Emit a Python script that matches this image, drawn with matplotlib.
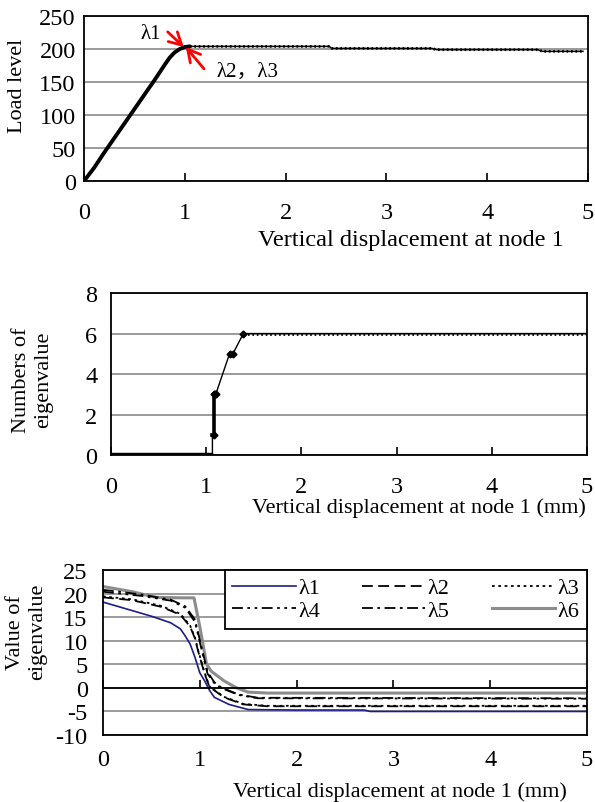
"""Load curve, eigenvalue count and eigenvalues vs. vertical displacement at node 1."""

import matplotlib

matplotlib.use("Agg")
import matplotlib.pyplot as plt

# panel A: load level
load_disp = [0, 0.1, 0.2, 0.3, 0.4, 0.5, 0.6, 0.7, 0.8, 0.85, 0.9, 0.95, 1.0, 1.05,
             2.43, 2.46, 3.45, 3.5, 4.5, 4.55, 4.95]
load_level = [0, 20, 43, 65, 87, 109, 131, 153, 176, 187, 195, 200, 203, 204,
              204, 201, 201, 199, 199, 196.5, 196.5]
knee_index = 13

# panel B: number of negative eigenvalues
count_disp = [0, 1.05, 1.065, 1.065, 1.085, 1.085, 1.10, 1.245, 1.28, 1.39, 5.0]
count_value = [0, 0, 0, 1, 1, 3, 3, 5, 5, 6, 6]
count_marker_disp = [1.085, 1.085, 1.095, 1.10, 1.245, 1.28, 1.39]
count_marker_value = [1, 3, 3, 3, 5, 5, 6]

# panel C: eigenvalues
eig_disp = {
    "λ1": [0, 0.2, 0.5, 0.7, 0.8, 0.85, 0.9, 0.95, 1.0, 1.05, 1.1, 1.15, 1.3, 1.5, 2.0, 2.7, 2.76, 5.0],
    "λ2": [0, 0.3, 0.6, 0.8, 0.9, 0.95, 0.98, 1.05, 1.1, 1.25, 1.45, 1.7, 5.0],
    "λ3": [0, 0.3, 0.6, 0.8, 0.9, 0.95, 0.98, 1.05, 1.1, 1.25, 1.45, 1.7, 5.0],
    "λ4": [0, 0.4, 0.7, 0.85, 0.95, 1.02, 1.08, 1.15, 1.22, 1.4, 1.6, 5.0],
    "λ5": [0, 0.4, 0.7, 0.85, 0.95, 1.02, 1.08, 1.15, 1.22, 1.4, 1.6, 5.0],
    "λ6": [0, 0.3, 0.55, 0.8, 0.94, 1.0, 1.07, 1.12, 1.25, 1.38, 1.5, 1.7, 5.0],
}
eig_value = {
    "λ1": [18.2, 17.0, 15.2, 13.8, 12.5, 11.0, 9.3, 6.5, 3.2, 1.5, -0.5, -2.0, -3.5, -4.6, -4.7, -4.7, -5.0, -5.0],
    "λ2": [19.2, 18.6, 17.2, 15.5, 13.0, 10.5, 8.0, 3.0, 0.2, -2.0, -3.5, -3.9, -3.9],
    "λ3": [19.4, 18.8, 17.4, 15.7, 13.2, 10.7, 8.2, 3.2, 0.3, -1.9, -3.4, -3.8, -3.8],
    "λ4": [20.4, 19.5, 18.5, 17.0, 14.0, 8.0, 3.0, 1.0, 0.0, -1.5, -2.2, -2.3],
    "λ5": [20.8, 19.8, 18.7, 17.3, 14.5, 8.5, 3.4, 1.2, 0.1, -1.4, -2.1, -2.2],
    "λ6": [21.5, 20.4, 19.2, 19.1, 19.1, 13.0, 5.0, 3.5, 1.5, 0.0, -0.9, -1.1, -1.1],
}
eig_style = {
    "λ1": dict(color="#1c1c8a", lw=1.2, ls="-"),
    "λ2": dict(color="black", lw=1.3, ls=(0, (6, 3))),
    "λ3": dict(color="black", lw=1.3, ls=(0, (1.5, 2))),
    "λ4": dict(color="black", lw=1.3, ls=(0, (6, 2.5, 1.5, 2.5, 1.5, 2.5))),
    "λ5": dict(color="black", lw=1.3, ls=(0, (6, 2.5, 1.5, 2.5))),
    "λ6": dict(color="#8c8c8c", lw=2.2, ls="-"),
}

xticks = [0, 1, 2, 3, 4, 5]

plt.rcParams.update(
    {
        "font.family": ["Liberation Serif", "Noto Sans CJK JP"],
        "font.size": 16,
        "xtick.labelsize": 17.5,
        "ytick.labelsize": 17.5,
        "axes.linewidth": 1.3,
        "axes.edgecolor": "black",
        "axes.unicode_minus": False,
    }
)

fig = plt.figure(figsize=(5.95, 8.03), dpi=100)
ax1 = fig.add_axes([0.1412, 0.7733, 0.847, 0.2055])
ax2 = fig.add_axes([0.1866, 0.4321, 0.800, 0.2017])
ax3 = fig.add_axes([0.1731, 0.0834, 0.8134, 0.2055])


def style_axis(ax, ylim, yticks, ypad):
    ax.set_xlim(0, 5)
    ax.set_ylim(*ylim)
    ax.set_xticks(xticks)
    ax.set_yticks(yticks)
    ax.tick_params(axis="x", direction="in", length=6, width=1.2, pad=15, colors="black")
    ax.tick_params(axis="y", length=0, pad=ypad)
    ax.grid(axis="y", color="#808080", lw=1.1)
    ax.set_axisbelow(True)


# panel A
style_axis(ax1, (0, 250), [0, 50, 100, 150, 200, 250], 6)
ax1.plot(load_disp[: knee_index + 1], load_level[: knee_index + 1], color="black", lw=2.8,
         solid_capstyle="round")
ax1.plot(load_disp[knee_index:], load_level[knee_index:], color="black", lw=1.1)
ax1.plot(load_disp[knee_index:], load_level[knee_index:], color="black", lw=2.0,
         ls=(0, (0.6, 1.0)))
red_arrow = dict(arrowstyle="->,head_length=0.55,head_width=0.3", color="red", lw=2,
                 shrinkA=0, shrinkB=0)
ax1.annotate("", xy=(0.99, 203), xytext=(0.83, 226), arrowprops=red_arrow)
ax1.annotate("", xy=(1.01, 203), xytext=(1.19, 170), arrowprops=red_arrow)
ax1.text(0.665, 224, "λ1", ha="center", va="center", fontsize=15)
ax1.text(1.31, 166, "λ2，λ3", ha="left", va="center", fontsize=15)
ax1.set_xlabel("Vertical displacement at node 1", fontsize=17.5)
ax1.xaxis.set_label_coords(0.649, -0.29)
ax1.set_ylabel("Load level")
ax1.yaxis.set_label_coords(-0.113, 0.58)

# panel B
style_axis(ax2, (0, 8), [0, 2, 4, 6, 8], 10)
ax2.plot(count_disp[:2], count_value[:2], color="black", lw=3.2)
ax2.plot(count_disp[1:], count_value[1:], color="black", lw=1.0)
ax2.plot(count_disp[3:6], count_value[3:6], color="black", lw=2.6)
ax2.plot(count_disp[-2:], count_value[-2:], color="black", lw=2.0, ls=(0, (0.6, 1.0)))
ax2.plot(count_marker_disp, count_marker_value, ls="none", marker="D", ms=3.5,
         color="black")
ax2.set_xlabel("Vertical displacement at node 1 (mm)")
ax2.xaxis.set_label_coords(0.647, -0.26)
ax2.set_ylabel("Numbers of\neigenvalue", multialignment="center")
ax2.yaxis.set_label_coords(-0.122, 0.47)

# panel C: the x axis crosses at zero, labels stay below the frame
style_axis(ax3, (-10, 25), [-10, -5, 0, 5, 10, 15, 20, 25], 11)
ax3.spines["bottom"].set_position(("data", 0))
ax3.tick_params(axis="x", pad=44)
ax3.axhline(ax3.get_ylim()[0], color="black", lw=1.3, clip_on=False, zorder=3)
lines = {}
for name in ["λ6", "λ5", "λ4", "λ3", "λ2", "λ1"]:
    (lines[name],) = ax3.plot(eig_disp[name], eig_value[name], label=name, **eig_style[name])
order = ["λ1", "λ4", "λ2", "λ5", "λ3", "λ6"]
leg = ax3.legend([lines[n] for n in order], order, ncol=3, loc="upper right",
                 bbox_to_anchor=(1, 1), borderaxespad=0, fancybox=False, framealpha=1,
                 edgecolor="black", handlelength=2.85, handletextpad=0.1,
                 columnspacing=1.9, labelspacing=0.1, borderpad=0.35, fontsize=16)
leg.get_frame().set_linewidth(1.3)
ax3.set_xlabel("Vertical displacement at node 1 (mm)")
ax3.xaxis.set_label_coords(0.614, -0.28)
ax3.set_ylabel("Value of\neigenvalue", multialignment="center")
ax3.yaxis.set_label_coords(-0.116, 0.63)

fig.savefig("out.png", dpi=100)
